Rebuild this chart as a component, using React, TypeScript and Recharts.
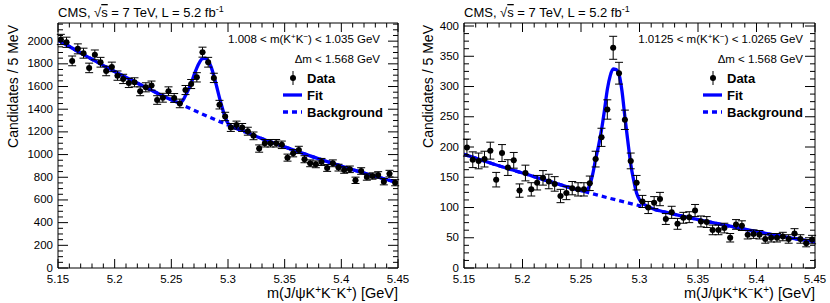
import React from 'react';
import { ComposedChart, Line, Scatter, ErrorBar, XAxis, YAxis } from 'recharts';

// 5 MeV bin centres, 5.15 - 5.45 GeV
const massBins = [
  5.1525, 5.1575, 5.1625, 5.1675, 5.1725, 5.1775, 5.1825, 5.1875, 5.1925, 5.1975,
  5.2025, 5.2075, 5.2125, 5.2175, 5.2225, 5.2275, 5.2325, 5.2375, 5.2425, 5.2475,
  5.2525, 5.2575, 5.2625, 5.2675, 5.2725, 5.2775, 5.2825, 5.2875, 5.2925, 5.2975,
  5.3025, 5.3075, 5.3125, 5.3175, 5.3225, 5.3275, 5.3325, 5.3375, 5.3425, 5.3475,
  5.3525, 5.3575, 5.3625, 5.3675, 5.3725, 5.3775, 5.3825, 5.3875, 5.3925, 5.3975,
  5.4025, 5.4075, 5.4125, 5.4175, 5.4225, 5.4275, 5.4325, 5.4375, 5.4425, 5.4475,
];
const binHalfWidth = 0.0025;

// left panel: 1.008 < m(KK) < 1.035
const leftCounts = [
  2015, 1990, 1826, 1932, 1894, 1764, 1879, 1814, 1737, 1773,
  1696, 1667, 1631, 1637, 1558, 1593, 1608, 1481, 1501, 1558,
  1499, 1451, 1569, 1622, 1681, 1903, 1814, 1676, 1440, 1336,
  1239, 1260, 1239, 1206, 1165, 1053, 1100, 1100, 1100, 1086,
  973, 1012, 1041, 959, 923, 914, 935, 882, 923, 885,
  864, 870, 773, 855, 802, 811, 820, 761, 832, 752,
];
const leftErrors = [
  45, 45, 43, 44, 44, 42, 43, 43, 42, 42,
  41, 41, 40, 40, 39, 40, 40, 38, 39, 39,
  39, 38, 40, 40, 41, 44, 43, 41, 38, 37,
  35, 35, 35, 35, 34, 32, 33, 33, 33, 33,
  31, 32, 32, 31, 30, 30, 31, 30, 30, 30,
  29, 29, 28, 29, 28, 28, 29, 28, 29, 27,
];
const leftFitMass = [
  5.15, 5.175, 5.2, 5.225, 5.25, 5.255, 5.2575, 5.26, 5.2625, 5.265,
  5.2675, 5.27, 5.2725, 5.275, 5.2775, 5.28, 5.2825, 5.285, 5.2875, 5.29,
  5.2925, 5.295, 5.2975, 5.3, 5.3025, 5.305, 5.31, 5.325, 5.35, 5.375,
  5.4, 5.425, 5.45,
];
const leftFitValues = [
  2010, 1868, 1732, 1605, 1483, 1462, 1455, 1475, 1520, 1570,
  1630, 1700, 1765, 1815, 1845, 1848, 1825, 1775, 1695, 1600,
  1500, 1410, 1330, 1275, 1250, 1240, 1225, 1160, 1068, 980,
  898, 822, 752,
];
const bkgMass = [5.15, 5.175, 5.2, 5.225, 5.25, 5.275, 5.3, 5.325, 5.35, 5.375, 5.4, 5.425, 5.45];
const leftBkgValues = [2010, 1868, 1732, 1605, 1483, 1368, 1260, 1160, 1068, 980, 898, 822, 752];

// right panel: 1.0125 < m(KK) < 1.0265
const rightCounts = [
  199, 179, 177, 180, 194, 146, 190, 166, 178, 128,
  157, 130, 141, 149, 143, 139, 119, 124, 132, 130,
  130, 140, 180, 216, 262, 364, 322, 245, 177, 141,
  110, 100, 108, 114, 81, 92, 73, 83, 84, 95,
  77, 76, 63, 63, 66, 50, 72, 70, 55, 56,
  55, 48, 50, 50, 52, 48, 57, 48, 41, 47,
];
const rightErrors = [
  14, 13, 13, 13, 14, 12, 14, 13, 13, 11,
  13, 11, 12, 12, 12, 12, 11, 11, 11, 11,
  11, 12, 13, 15, 16, 19, 18, 16, 13, 12,
  10, 10, 10, 11, 9, 10, 9, 9, 9, 10,
  9, 9, 8, 8, 8, 7, 8, 8, 7, 7,
  7, 7, 7, 7, 7, 7, 8, 7, 6, 7,
];
const rightFitMass = [
  5.15, 5.175, 5.2, 5.225, 5.25, 5.2525, 5.255, 5.2575, 5.26, 5.2625,
  5.265, 5.2675, 5.27, 5.2725, 5.275, 5.2775, 5.28, 5.2825, 5.285, 5.2875,
  5.29, 5.2925, 5.295, 5.2975, 5.3, 5.3025, 5.305, 5.31, 5.325, 5.35,
  5.375, 5.4, 5.425, 5.45,
];
const rightFitValues = [
  188, 172, 157, 142, 128, 127, 129, 137, 155, 180,
  202, 228, 260, 295, 318, 329, 328, 320, 293, 250,
  210, 172, 145, 124, 113, 107, 104, 99, 91, 80,
  70, 60, 51, 43,
];
const rightBkgValues = [188, 172, 157, 142, 128, 115, 103, 91, 80, 70, 60, 51, 43];

const xTickValues = [5.15, 5.2, 5.25, 5.3, 5.35, 5.4, 5.45];
const xTickLabels = ['5.15', '5.2', '5.25', '5.3', '5.35', '5.4', '5.45'];
const leftYTicks = [0, 200, 400, 600, 800, 1000, 1200, 1400, 1600, 1800, 2000];
const rightYTicks = [0, 50, 100, 150, 200, 250, 300, 350, 400];

const FONT = '"Liberation Sans", Arial, Helvetica, sans-serif';
const BLUE = '#0000ff';

// all tick positions (major + minor) for the ROOT-style frame
const withMinor = (majors: number[], step: number, max: number) => {
  const out: number[] = [];
  const n = Math.round((max - majors[0]) / step);
  for (let i = 0; i <= n; i++) out.push(+(majors[0] + i * step).toFixed(5));
  return out;
};

const isMajor = (majors: number[], v: number) => majors.findIndex(m => Math.abs(m - v) < 1e-6);

const makeTick = (side: 'left' | 'right' | 'bottom' | 'top', majors: number[], labels?: string[]) =>
  (props: any) => {
    const { x, y, payload } = props;
    const idx = isMajor(majors, payload.value);
    const major = idx >= 0;
    if (side === 'left' || side === 'right') {
      const len = major ? 10 : 5;
      const dir = side === 'left' ? 1 : -1;
      return (
        <g>
          <line x1={x} y1={y} x2={x + dir * len} y2={y} stroke="#000" strokeWidth={1} />
          {side === 'left' && major && (
            <text x={x - 5} y={y} dy={3.5} textAnchor="end" fontSize={11.5} fontFamily={FONT} fill="#000">
              {labels ? labels[idx] : payload.value}
            </text>
          )}
        </g>
      );
    }
    const len = major ? 9 : 4.5;
    const dir = side === 'bottom' ? -1 : 1;
    return (
      <g>
        <line x1={x} y1={y} x2={x} y2={y + dir * len} stroke="#000" strokeWidth={1} />
        {side === 'bottom' && major && (
          <text x={x} y={y + 15} textAnchor="middle" fontSize={11.5} fontFamily={FONT} fill="#000">
            {labels ? labels[idx] : payload.value}
          </text>
        )}
      </g>
    );
  };

const DataDot = (props: any) => {
  const { cx, cy } = props;
  if (cx == null || cy == null) return null;
  return <circle cx={cx} cy={cy} r={3} fill="#000" />;
};

interface PanelProps {
  counts: number[];
  errors: number[];
  fitMass: number[];
  fitValues: number[];
  bkgValues: number[];
  yMax: number;
  yTicks: number[];
  yMinorStep: number;
  plotLeft: number;
  plotRight: number;
  massWindow: [string, string];
  textRight: number;
  legendX: number;
}

const Panel: React.FC<PanelProps> = ({
  counts, errors, fitMass, fitValues, bkgValues, yMax, yTicks, yMinorStep,
  plotLeft, plotRight, massWindow, textRight, legendX,
}) => {
  const points = massBins.map((m, i) => ({ x: m, y: counts[i], err: errors[i], xerr: binHalfWidth }));
  const fit = fitMass.map((m, i) => ({ x: m, y: fitValues[i] }));
  const bkg = bkgMass.map((m, i) => ({ x: m, y: bkgValues[i] }));
  const xAll = withMinor(xTickValues, 0.01, 5.45);
  const yAll = withMinor(yTicks, yMinorStep, yMax);
  // axes are 1px thick, so the margins stop 1px short of the frame
  const margin = { top: 22, right: 415 - plotRight - 1, bottom: 34, left: plotLeft - 1 };

  return (
    <div style={{ position: 'relative', width: 415, height: 303 }}>
      <ComposedChart width={415} height={303} margin={margin}>
        <XAxis xAxisId="b" dataKey="x" type="number" domain={[5.15, 5.45]} allowDataOverflow
          ticks={xAll} interval={0} tick={makeTick('bottom', xTickValues, xTickLabels)}
          tickLine={false} tickSize={0} tickMargin={0} height={1} axisLine={{ stroke: '#000' }} />
        <XAxis xAxisId="t" orientation="top" dataKey="x" type="number" domain={[5.15, 5.45]} allowDataOverflow
          ticks={xAll} interval={0} tick={makeTick('top', xTickValues)}
          tickLine={false} tickSize={0} tickMargin={0} height={1} axisLine={{ stroke: '#000' }} />
        <YAxis yAxisId="l" type="number" domain={[0, yMax]} allowDataOverflow
          ticks={yAll} interval={0} tick={makeTick('left', yTicks)}
          tickLine={false} tickSize={0} tickMargin={0} width={1} axisLine={{ stroke: '#000' }} />
        <YAxis yAxisId="r" orientation="right" type="number" domain={[0, yMax]} allowDataOverflow
          ticks={yAll} interval={0} tick={makeTick('right', yTicks)}
          tickLine={false} tickSize={0} tickMargin={0} width={1} axisLine={{ stroke: '#000' }} />
        <Line xAxisId="b" yAxisId="l" data={bkg} dataKey="y" type="monotone" stroke={BLUE}
          strokeWidth={3.3} strokeDasharray="5 4" dot={false} isAnimationActive={false} />
        <Line xAxisId="b" yAxisId="l" data={fit} dataKey="y" type="monotone" stroke={BLUE}
          strokeWidth={3.3} dot={false} isAnimationActive={false} />
        <Scatter xAxisId="b" yAxisId="l" data={points} dataKey="y" shape={DataDot} isAnimationActive={false}>
          <ErrorBar dataKey="err" direction="y" width={4} stroke="#000" strokeWidth={1} isAnimationActive={false} />
          <ErrorBar dataKey="xerr" direction="x" width={0} stroke="#000" strokeWidth={1} isAnimationActive={false} />
        </Scatter>
      </ComposedChart>
      <svg width={415} height={303} style={{ position: 'absolute', left: 0, top: 0, pointerEvents: 'none' }}
        fontFamily={FONT} fill="#000">
        <text x={plotLeft} y={17} fontSize={13}>
          CMS, √<tspan textDecoration="overline">s</tspan> = 7 TeV, L = 5.2 fb
          <tspan dy={-5} fontSize={9}>-1</tspan>
        </text>
        <text x={18} y={25} fontSize={14} textAnchor="end" transform="rotate(-90 18 25)">
          Candidates / 5 MeV
        </text>
        <text x={plotRight} y={298} fontSize={14.5} textAnchor="end">
          m(J/ψK<tspan dy={-5} fontSize={10}>+</tspan><tspan dy={5}>K</tspan>
          <tspan dy={-5} fontSize={10}>−</tspan><tspan dy={5}>K</tspan>
          <tspan dy={-5} fontSize={10}>+</tspan><tspan dy={5}>) [GeV]</tspan>
        </text>
        <text x={textRight} y={43} fontSize={11.5} textAnchor="end">
          {massWindow[0]} &lt; m(K<tspan dy={-4} fontSize={8}>+</tspan><tspan dy={4}>K</tspan>
          <tspan dy={-4} fontSize={8}>−</tspan><tspan dy={4}>) &lt; {massWindow[1]} GeV</tspan>
        </text>
        <text x={textRight} y={63} fontSize={11.5} textAnchor="end">Δm &lt; 1.568 GeV</text>

        <line x1={legendX} y1={71} x2={legendX} y2={85} stroke="#000" strokeWidth={1} />
        <circle cx={legendX} cy={78} r={3} fill="#000" />
        <text x={legendX + 14} y={83} fontSize={13} fontWeight="bold">Data</text>
        <line x1={legendX - 10} y1={95} x2={legendX + 9} y2={95} stroke={BLUE} strokeWidth={3.3} />
        <text x={legendX + 14} y={100} fontSize={13} fontWeight="bold">Fit</text>
        <line x1={legendX - 10} y1={112} x2={legendX + 9} y2={112} stroke={BLUE} strokeWidth={3.3}
          strokeDasharray="5 4" />
        <text x={legendX + 14} y={117} fontSize={13} fontWeight="bold">Background</text>
      </svg>
    </div>
  );
}

export default function App() {
  return (
    <div style={{ position: 'absolute', left: 0, top: 0, width: 830, height: 303, display: 'flex', background: '#fff' }}>
      <Panel counts={leftCounts} errors={leftErrors} fitMass={leftFitMass} fitValues={leftFitValues}
        bkgValues={leftBkgValues} yMax={2160} yTicks={leftYTicks} yMinorStep={50}
        plotLeft={58} plotRight={398} massWindow={['1.008', '1.035']} textRight={380} legendX={293} />
      <Panel counts={rightCounts} errors={rightErrors} fitMass={rightFitMass} fitValues={rightFitValues}
        bkgValues={rightBkgValues} yMax={405} yTicks={rightYTicks} yMinorStep={12.5}
        plotLeft={49} plotRight={400} massWindow={['1.0125', '1.0265']} textRight={388} legendX={298} />
    </div>
  );
}
